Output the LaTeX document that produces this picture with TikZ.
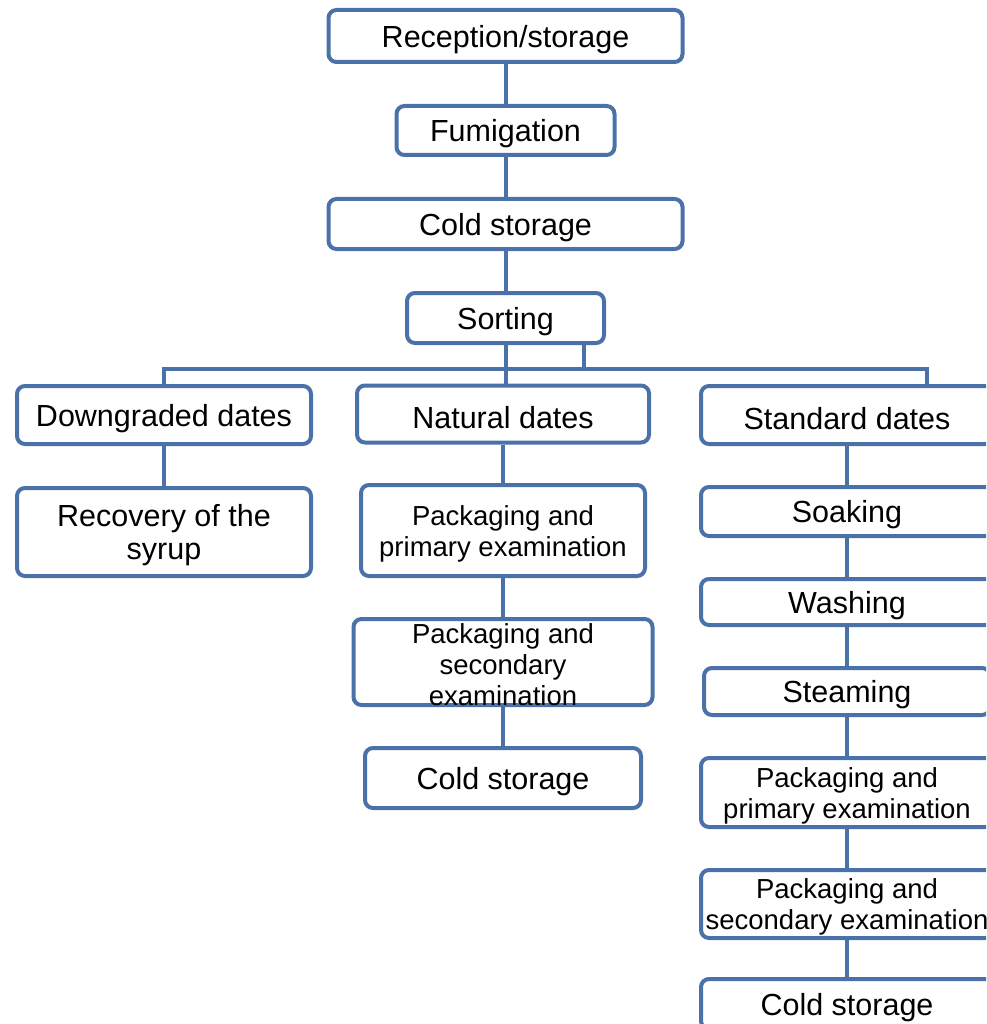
\documentclass[tikz,border=0pt]{standalone}
\usepackage{fontspec}
\setmainfont{Liberation Sans}
\definecolor{bl}{HTML}{4A72A8}
\begin{document}
\begin{tikzpicture}[x=1pt,y=-1pt,
  bx/.style={draw=bl, line width=4pt, rounded corners=8pt, fill=white, inner sep=0pt},
  big/.style={font=\fontsize{30.5}{33}\selectfont, align=center, inner sep=0pt, yshift=-3.5pt},
  small/.style={font=\fontsize{27.5}{31}\selectfont, align=center, inner sep=0pt, yshift=-3pt},
  ln/.style={draw=bl, line width=4pt, line join=miter}]
\useasboundingbox (0,0) rectangle (986,1024);
\clip (0,0) rectangle (986,1024);
\fill[white] (0,0) rectangle (986,1024);

% top chain
\node[bx, minimum width=354pt, minimum height=52pt, label={[big]center:Reception/storage}] (rec) at (505.5,36) {};
\node[bx, minimum width=218pt, minimum height=49pt, label={[big]center:Fumigation}] (fum) at (505.5,130.5) {};
\node[bx, minimum width=354pt, minimum height=50pt, label={[big]center:Cold storage}] (cold) at (505.5,224) {};
\node[bx, minimum width=197pt, minimum height=50pt, label={[big]center:Sorting}] (sort) at (505.5,318) {};

% second row
\node[bx, minimum width=294pt, minimum height=58pt, label={[big]center:Downgraded dates}] (down) at (164,415) {};
\node[bx, minimum width=292pt, minimum height=57pt, label={[big]center:Natural dates}] (nat) at (503,414) {};
\node[bx, minimum width=292pt, minimum height=58pt, label={[big]center:Standard dates}] (std) at (847,415) {};

% left column
\node[bx, minimum width=294pt, minimum height=88pt, label={[big]center:{Recovery of the\\syrup}}] (syrup) at (164,532) {};

% middle column
\node[bx, minimum width=284pt, minimum height=91pt, label={[small]center:{Packaging and\\primary examination}}] (pp1) at (503,530.5) {};
\node[bx, minimum width=299pt, minimum height=86pt, label={[small]center:{Packaging and\\secondary\\examination}}] (ps1) at (503,662) {};
\node[bx, minimum width=276pt, minimum height=60pt, label={[big]center:Cold storage}] (cs1) at (503,778) {};

% right column
\node[bx, minimum width=292pt, minimum height=49pt, label={[big]center:Soaking}] (soak) at (847,511.5) {};
\node[bx, minimum width=292pt, minimum height=46pt, label={[big]center:Washing}] (wash) at (847,602) {};
\node[bx, minimum width=286pt, minimum height=47pt, label={[big]center:Steaming}] (steam) at (847,691.5) {};
\node[bx, minimum width=292pt, minimum height=69pt, label={[small]center:{Packaging and\\primary examination}}] (pp2) at (847,792.5) {};
\node[bx, minimum width=292pt, minimum height=68pt, label={[small]center:{Packaging and\\secondary examination}}] (ps2) at (847,904) {};
\node[bx, minimum width=292pt, minimum height=50pt, label={[big]center:Cold storage}] (cs2) at (847,1004) {};

% bus coordinates
\coordinate (busL) at (164,369);
\coordinate (busR) at (927,369);
\coordinate (s2) at (584,369);

% connectors
\draw[ln] (rec) -- (fum);
\draw[ln] (fum) -- (cold);
\draw[ln] (cold) -- (sort);
\draw[ln] (sort.south) -- (sort.south |- nat.north);
\draw[ln] (s2 |- sort.south) -- (s2);
\draw[ln] (down.north) -- (busL) -- (busR) -- (busR |- std.north);
\draw[ln] (down) -- (syrup);
\draw[ln] (nat) -- (pp1);
\draw[ln] (pp1) -- (ps1);
\draw[ln] (ps1) -- (cs1);
\draw[ln] (std) -- (soak);
\draw[ln] (soak) -- (wash);
\draw[ln] (wash) -- (steam);
\draw[ln] (steam) -- (pp2);
\draw[ln] (pp2) -- (ps2);
\draw[ln] (ps2) -- (cs2);
\end{tikzpicture}
\end{document}
